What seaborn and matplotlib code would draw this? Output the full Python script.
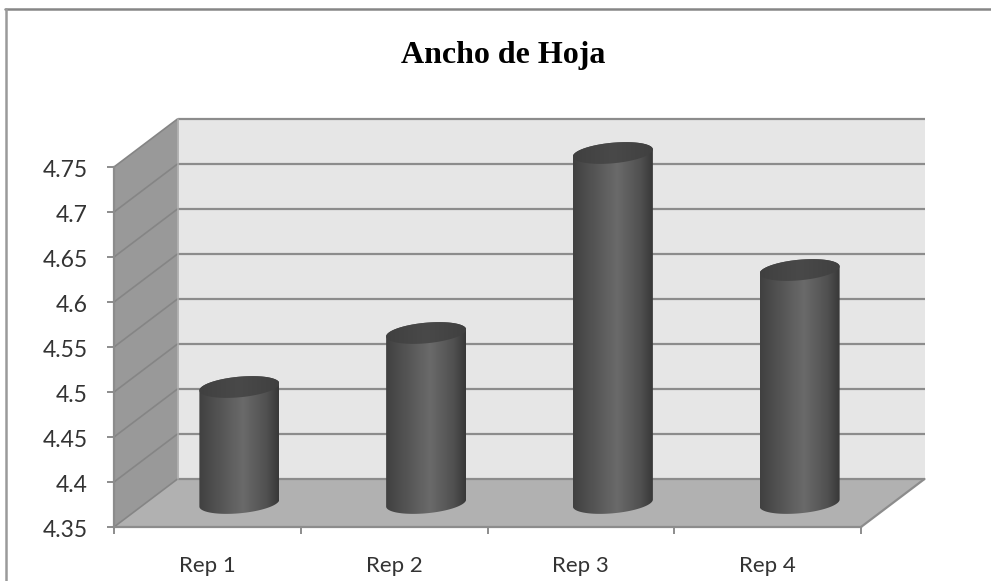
import numpy as np
import pandas as pd
import matplotlib
matplotlib.use("Agg")
import matplotlib.pyplot as plt
from matplotlib.colors import LinearSegmentedColormap
from matplotlib.patches import PathPatch
from matplotlib.path import Path
from matplotlib.transforms import ScaledTranslation
import seaborn as sns

# Chart content
title = "Ancho de Hoja"
reps = ["Rep 1", "Rep 2", "Rep 3", "Rep 4"]
ancho = [4.49, 4.55, 4.75, 4.62]
y_ticks = [4.35, 4.40, 4.45, 4.50, 4.55, 4.60, 4.65, 4.70, 4.75]
y_tick_labels = ["4.35", "4.4", "4.45", "4.5", "4.55", "4.6", "4.65", "4.7", "4.75"]

W, H = 991, 581
AX_L, AX_R, AX_T, AX_B = 114, 861, 167, 527

sns.set_theme(style="white")
plt.rcParams["font.family"] = ["Lato", "DejaVu Sans"]

fig = plt.figure(figsize=(W / 100, H / 100), dpi=100, facecolor="white")
ax = fig.add_axes([AX_L / W, 1 - AX_B / H, (AX_R - AX_L) / W, (AX_B - AX_T) / H])
ax.patch.set_alpha(0)

df = pd.DataFrame({"rep": reps, "ancho": ancho})
sns.barplot(data=df, x="rep", y="ancho", width=0.43, color="#555555", ax=ax, zorder=3)
ax.set_xlim(-0.5, 3.5)
ax.set_ylim(4.35, 4.75)

# Pixel sizes expressed in data units
px_x = 4 / (AX_R - AX_L)
px_y = 0.40 / (AX_B - AX_T)
dx, dy = 63.5 * px_x, 48 * px_y
ymin, ymax = 4.35, 4.75
xmin, xmax = -0.5, 3.5

# 3D box: back wall, side wall, floor
ax.fill([xmin + dx, xmax + dx, xmax + dx, xmin + dx],
        [ymin + dy, ymin + dy, ymax + dy, ymax + dy],
        color="#e6e6e6", lw=0, clip_on=False, zorder=0)
ax.fill([xmin, xmin + dx, xmin + dx, xmin],
        [ymin, ymin + dy, ymax + dy, ymax],
        color="#999999", lw=0, clip_on=False, zorder=0)
ax.fill([xmin, xmax, xmax + dx, xmin + dx],
        [ymin, ymin, ymin + dy, ymin + dy],
        color="#b1b1b1", lw=0, clip_on=False, zorder=0)

line_col = "#8c8c8c"
for t in y_ticks:
    ax.plot([xmin + dx, xmax + dx], [t + dy, t + dy], color=line_col, lw=1.6,
            clip_on=False, zorder=1, solid_capstyle="butt")
    ax.plot([xmin, xmin + dx], [t, t + dy], color="#858585", lw=1.2,
            clip_on=False, zorder=1)
ax.plot([xmax, xmax + dx], [ymin, ymin + dy], color=line_col, lw=1.6, clip_on=False, zorder=1)
ax.plot([xmin + dx, xmin + dx], [ymin + dy, ymax + dy], color="#aaaaaa", lw=1.2,
        clip_on=False, zorder=1)

# Turn each flat bar into a shaded cylinder standing in the middle of the floor
body_cmap = LinearSegmentedColormap.from_list(
    "cyl", [(0, "#404040"), (0.15, "#4c4c4c"), (0.55, "#6a6a6a"), (0.85, "#505050"), (1, "#383838")])
top_cmap = LinearSegmentedColormap.from_list("cap", ["#404040", "#494949", "#404040"])
grad = np.linspace(0, 1, 256)[None, :]

base_y = ymin + 24 * px_y
top_shift = 14 * px_y
half_w = 40 * px_x
shear, minor = 3.5 * px_y, 10.3 * px_y

def ring(cx, cy, t):
    return cx + half_w * np.cos(t), cy + minor * np.sin(t) + shear * np.cos(t)

for bar, v in zip(ax.patches, ancho):
    cx = bar.get_x() + bar.get_width() / 2 + 32 * px_x
    bar.set_alpha(0)
    top_y = bar.get_height() + top_shift

    low = np.linspace(np.pi, 2 * np.pi, 60)
    up = np.linspace(0, np.pi, 60)
    xb, yb = ring(cx, base_y, low)
    xt, yt = ring(cx, top_y, up)
    verts = np.r_[np.c_[xb, yb], np.c_[xt, yt], [[xb[0], yb[0]]]]
    body = PathPatch(Path(verts, closed=True), transform=ax.transData, fc="none", ec="none",
                     clip_on=False)
    ax.add_patch(body)
    im = ax.imshow(grad, cmap=body_cmap, aspect="auto", zorder=3, interpolation="bilinear",
                   extent=[cx - half_w, cx + half_w, base_y - 0.05, top_y + 0.05])
    im.set_clip_path(body)
    im.set_clip_box(fig.bbox)

    tt = np.linspace(0, 2 * np.pi, 120)
    xc, yc = ring(cx, top_y, tt)
    cap = PathPatch(Path(np.c_[xc, yc], closed=True), transform=ax.transData, fc="none", ec="none",
                    clip_on=False)
    ax.add_patch(cap)
    im2 = ax.imshow(grad, cmap=top_cmap, aspect="auto", zorder=4, interpolation="bilinear",
                    extent=[cx - half_w, cx + half_w, top_y - 0.03, top_y + 0.03])
    im2.set_clip_path(cap)
    im2.set_clip_box(fig.bbox)

ax.set_xlim(xmin, xmax)
ax.set_ylim(ymin, ymax)
ax.set_xlabel("")
ax.set_ylabel("")

# Axes lines, ticks and labels
sns.despine(ax=ax, top=True, right=True)
for side in ("left", "bottom"):
    ax.spines[side].set_color(line_col)
    ax.spines[side].set_linewidth(1.6)
    ax.spines[side].set_zorder(2)
ax.set_yticks(y_ticks)
ax.set_yticklabels(y_tick_labels)
ax.set_xticks(np.arange(len(reps)))
ax.set_xticklabels(reps)
ax.xaxis.set_ticks([-0.5, 0.5, 1.5, 2.5, 3.5], minor=True)
ax.tick_params(axis="x", which="major", length=0, pad=21, labelsize=16, labelcolor="#333333")
ax.tick_params(axis="x", which="minor", bottom=True, length=5, width=1.4, color=line_col)
ax.tick_params(axis="y", left=True, length=5, width=1.4, color=line_col, pad=14,
               labelsize=16.5, labelcolor="#333333")
nudge = ScaledTranslation(0, -1.5 / 100, fig.dpi_scale_trans)
for lbl in ax.get_yticklabels():
    lbl.set_transform(lbl.get_transform() + nudge)

fig.text(503 / W, 1 - 55 / H, title, ha="center", va="center", fontsize=23,
         fontweight="bold", family="Liberation Serif", color="black")

# Outer chart frame, open on the right and at the bottom
fig.add_artist(plt.Line2D([5 / W, 1], [1 - 8.5 / H, 1 - 8.5 / H], color="#868686", lw=1.8))
fig.add_artist(plt.Line2D([6 / W, 6 / W], [0, 1 - 8.5 / H], color="#9a9a9a", lw=1.8))

fig.savefig("out.png", dpi=100, facecolor="white")
